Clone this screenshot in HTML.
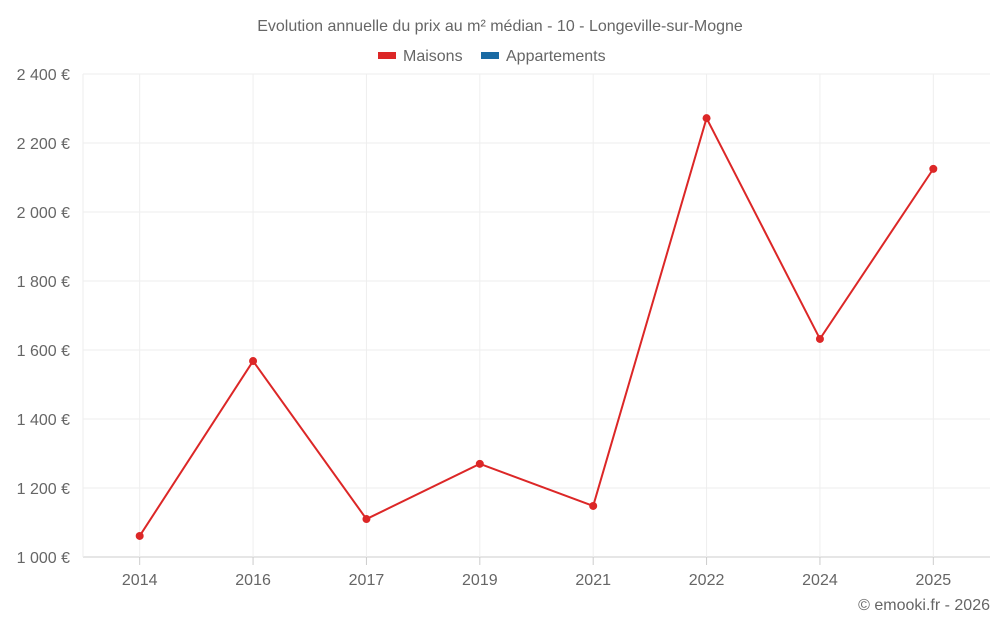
<!DOCTYPE html>
<html><head><meta charset="utf-8"><style>
body{margin:0;background:#fff;font-family:"Liberation Sans",sans-serif;}
svg text{font-family:"Liberation Sans",sans-serif;fill:#666;}
</style></head><body>
<svg id="chart" width="1000" height="625">
<text x="500" y="31" text-anchor="middle" font-size="16">Evolution annuelle du prix au m² médian - 10 - Longeville-sur-Mogne</text>
<g>
<rect x="378" y="52" width="18" height="7" fill="#dc2727"/>
<text x="403" y="61" font-size="16">Maisons</text>
<rect x="481" y="52" width="18" height="7" fill="#1a6aa3"/>
<text x="506" y="61" font-size="16">Appartements</text>
</g>
<g id="grid"></g><g id="axes"></g><g id="series"></g>
<text x="990" y="610" text-anchor="end" font-size="16">© emooki.fr - 2026</text>
</svg>
<script>
const categories=["2014","2016","2017","2019","2021","2022","2024","2025"];
const maisons=[1061,1568,1110,1270,1148,2272,1632,2125];
const yTicks=[1000,1200,1400,1600,1800,2000,2200,2400];
const yTickLabels=["1 000 €","1 200 €","1 400 €","1 600 €","1 800 €","2 000 €","2 200 €","2 400 €"];
const NS="http://www.w3.org/2000/svg";
const L=83,R=990,T=74,B=557,yMin=1000,yMax=2400;
const bw=(R-L)/categories.length;
function x(i){return L+bw*(i+0.5);}
function y(v){return B-(v-yMin)/(yMax-yMin)*(B-T);}
function mk(tag,attrs,parent){const e=document.createElementNS(NS,tag);for(const k in attrs)e.setAttribute(k,attrs[k]);parent.appendChild(e);return e;}
const grid=document.getElementById('grid'),axes=document.getElementById('axes'),series=document.getElementById('series');
yTicks.forEach((v,i)=>{
 const ln=mk('line',{x1:L,x2:R,y1:y(v),y2:y(v),stroke:i===0?'#ccc':'#eee','stroke-width':1},grid);
 
 
 const t=mk('text',{x:70,y:y(v)+6,'text-anchor':'end','font-size':16},axes);
 t.textContent=yTickLabels[i];
 
 
});
const edge=mk('line',{x1:L,x2:L,y1:T,y2:B,stroke:'#eee'},grid);


categories.forEach((c,i)=>{
 const ln=mk('line',{x1:x(i),x2:x(i),y1:T,y2:B,stroke:'#eee','stroke-width':1},grid);
 
 
 const tk=mk('line',{x1:x(i),x2:x(i),y1:B,y2:B+8,stroke:'#ccc'},axes);
 
 
 const t=mk('text',{x:x(i),y:585,'text-anchor':'middle','font-size':16},axes);
 t.textContent=c;
 
 
});
const pts=maisons.map((v,i)=>x(i)+','+y(v)).join(' ');
const pl=mk('polyline',{points:pts,fill:'none',stroke:'#dc2727','stroke-width':2},series);


maisons.forEach((v,i)=>{
 const c=mk('circle',{cx:x(i),cy:y(v),r:4,fill:'#dc2727'},series);
 
 
});
</script>
</body></html>
